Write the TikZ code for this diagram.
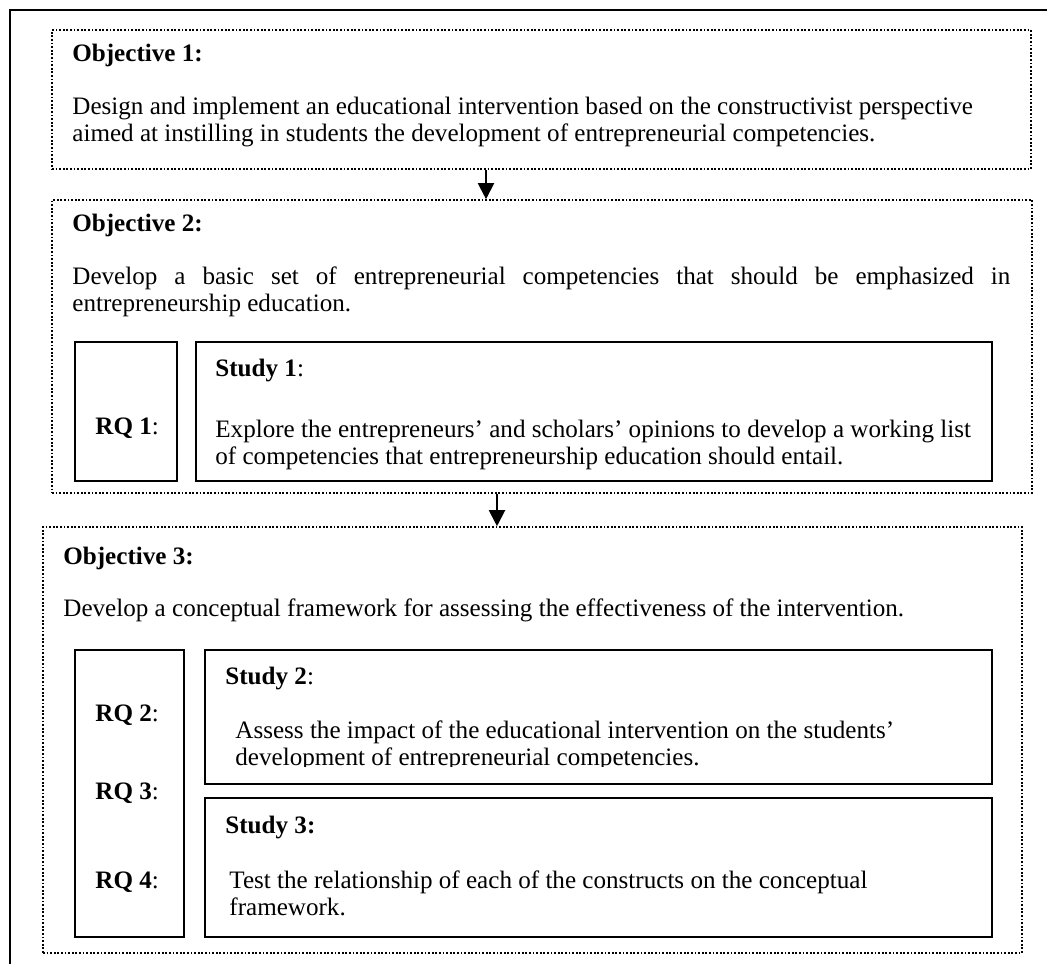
\documentclass[tikz,border=0pt]{standalone}
\usepackage{fontspec}
\setmainfont{Liberation Serif}
\usepackage{tikz}
\usetikzlibrary{arrows.meta,fit}

\begin{document}
\begin{tikzpicture}[x=0.5pt,y=0.5pt,yscale=-1,xscale=1,
  every node/.style={font=\fontsize{12.55}{14}\selectfont},
  txt/.style={anchor=base west,inner sep=0pt},
  dotbox/.style={draw,line width=0.8pt,dash pattern=on 0.9pt off 0.9pt,inner sep=0pt},
  solbox/.style={draw,line width=1pt,inner sep=0pt},
  arr/.style={line width=1pt,-{Triangle[length=8pt,width=8pt]}}]
\useasboundingbox (0,0) rectangle (1047,964);

%Straight Lines: outer frame
\draw [line width=1.1pt] (1047,10) -- (10,10) -- (10,964) ;

%Shape: Rectangle (objective 1)
\node [dotbox, fit={(52,30) (1031,169)}] (objone) {};
%Shape: Rectangle (objective 2)
\node [dotbox, fit={(52,200) (1032,493)}] (objtwo) {};
%Shape: Rectangle (objective 3)
\node [dotbox, fit={(43,527) (1022,953)}] (objthree) {};
%Shape: Rectangle (RQ 1)
\node [solbox, fit={(75,342) (177,481)}] (rqone) {};
%Shape: Rectangle (study 1)
\node [solbox, fit={(196,342) (992,481)}] (studyone) {};
%Shape: Rectangle (RQ 2-4)
\node [solbox, fit={(75,650) (184,937)}] (rqrest) {};
%Shape: Rectangle (study 2)
\node [solbox, fit={(205,650) (992,784)}] (studytwo) {};
%Shape: Rectangle (study 3)
\node [solbox, fit={(205,798) (992,937)}] (studythree) {};

%Straight Lines: arrows
\coordinate (arrone) at (486,0) ;
\coordinate (arrtwo) at (497,0) ;
\draw [arr] (objone.south -| arrone) -- (objtwo.north -| arrone) ;
\draw [arr] (objtwo.south -| arrtwo) -- (objthree.north -| arrtwo) ;

% Text Node
\draw (72,61) node (lblobjone) [txt] {\textbf{Objective 1:}};
% Text Node
\draw (72,114) node (txtobjonea) [txt] {Design and implement an educational intervention based on the constructivist perspective};
% Text Node
\draw (72,141) node (txtobjoneb) [txt] {aimed at instilling in students the development of entrepreneurial competencies.};
% Text Node
\draw (72,231) node (lblobjtwo) [txt] {\textbf{Objective 2:}};
% Text Node
\draw (72,284) node (txtobjtwoa) [txt] {\makebox[469pt][s]{Develop a basic set of entrepreneurial competencies that should be emphasized in}};
% Text Node
\draw (72,311) node (txtobjtwob) [txt] {entrepreneurship education.};
% Text Node
\draw (95,434) node (lblrqone) [txt] {\textbf{RQ 1}:};
% Text Node
\draw (215,376) node (lblstudyone) [txt] {\textbf{Study 1}:};
% Text Node
\draw (215,437) node (txtstudyonea) [txt] {Explore the entrepreneurs’ and scholars’ opinions to develop a working list};
% Text Node
\draw (215,464) node (txtstudyoneb) [txt] {of competencies that entrepreneurship education should entail.};
% Text Node
\draw (63,564) node (lblobjthree) [txt] {\textbf{Objective 3:}};
% Text Node
\draw (63,616) node (txtobjthree) [txt] {Develop a conceptual framework for assessing the effectiveness of the intervention.};
% Text Node
\draw (95,721) node (lblrqtwo) [txt] {\textbf{RQ 2}:};
% Text Node
\draw (95,799) node (lblrqthree) [txt] {\textbf{RQ 3}:};
% Text Node
\draw (95,888) node (lblrqfour) [txt] {\textbf{RQ 4}:};
% Text Node
\draw (225,684) node (lblstudytwo) [txt] {\textbf{Study 2}:};
\begin{scope}
\clip (205,650) rectangle (992,766) ;
% Text Node
\draw (235,738) node (txtstudytwoa) [txt] {Assess the impact of the educational intervention on the students’};
% Text Node
\draw (235,765) node (txtstudytwob) [txt] {development of entrepreneurial competencies.};
\end{scope}
% Text Node
\draw (225,833) node (lblstudythree) [txt] {\textbf{Study 3:}};
% Text Node
\draw (229,888) node (txtstudythreea) [txt] {Test the relationship of each of the constructs on the conceptual};
% Text Node
\draw (229,915) node (txtstudythreeb) [txt] {framework.};

\end{tikzpicture}
\end{document}
